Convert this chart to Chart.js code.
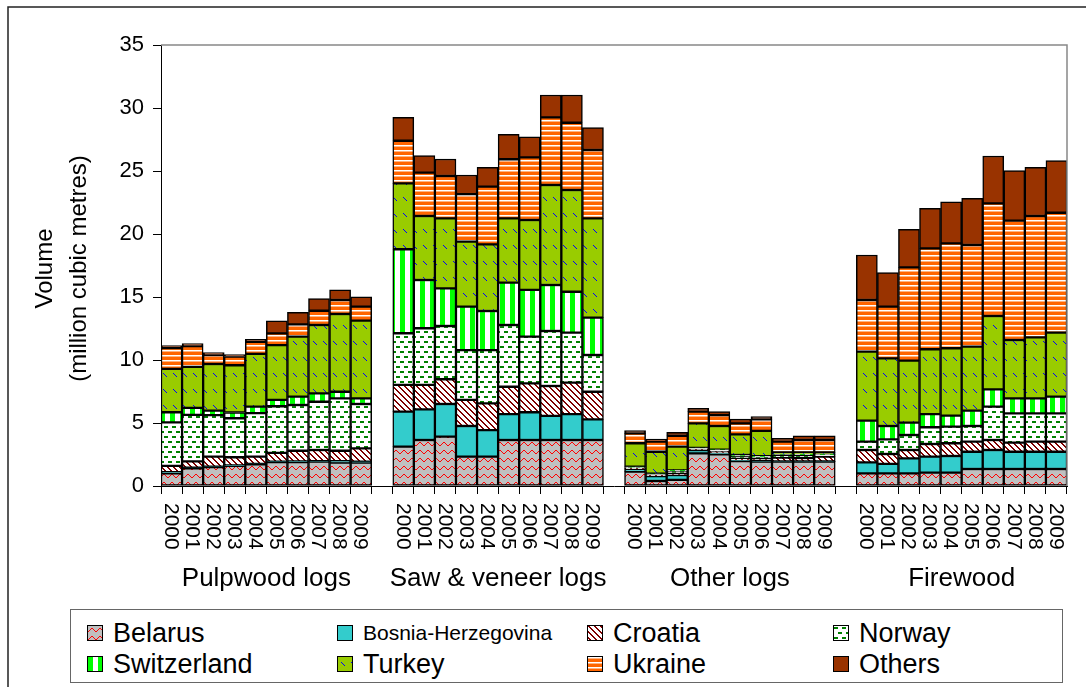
<!DOCTYPE html>
<html>
<head>
<meta charset="utf-8">
<script src="https://cdn.jsdelivr.net/npm/chart.js@4.4.1/dist/chart.umd.min.js"></script>
<style>
  body { margin: 0; background: #fff; }
  #wrap { position: relative; width: 1086px; height: 687px; overflow: hidden; }
  #legend {
    position: absolute; left: 70px; top: 609px; width: 993px; height: 74px;
    border: 1.5px solid #666; box-sizing: border-box; background: #fff;
    font-family: 'Liberation Sans', Arial, sans-serif; color: #000;
  }
  .item { position: absolute; height: 30px; display: flex; align-items: center; white-space: nowrap; }
  .item canvas { border: 1px solid #000; margin-right: 10px; display: block; }
</style>
</head>
<body>
<div id="wrap">
  <canvas id="chart" width="1086" height="687"></canvas>
  <div id="legend"></div>
</div>
<script>
// Categories
const years = ["2000", "2001", "2002", "2003", "2004", "2005", "2006", "2007", "2008", "2009"];
const groups = ["Pulpwood logs", "Saw & veneer logs", "Other logs", "Firewood"];

// Values per country, million m3: Pulpwood 2000-09, Saw & veneer 2000-09, Other 2000-09, Firewood 2000-09
const belarus = [
  1.0, 1.4, 1.5, 1.6, 1.72, 1.9, 1.9, 1.93, 1.85, 1.85,
  3.12, 3.65, 3.92, 2.33, 2.33, 3.65, 3.65, 3.65, 3.65, 3.65,
  1.14, 0.4, 0.48, 2.59, 2.51, 1.98, 1.93, 1.93, 1.93, 1.93,
  1.0, 1.0, 1.0, 1.06, 1.06, 1.35, 1.35, 1.35, 1.35, 1.35
];
const bosnia = [
  0.1, 0.05, 0.03, 0.03, 0.03, 0.03, 0.05, 0.05, 0.13, 0.08,
  2.78, 2.43, 2.59, 2.43, 2.11, 2.06, 2.2, 1.91, 2.06, 1.64,
  0.21, 0.39, 0.39, 0.27, 0.1, 0.05, 0.05, 0.03, 0.03, 0.03,
  0.88, 0.75, 1.19, 1.27, 1.32, 1.37, 1.51, 1.37, 1.37, 1.37
];
const croatia = [
  0.5, 0.5, 0.8, 0.65, 0.58, 0.7, 0.85, 0.88, 0.82, 1.06,
  2.12, 1.94, 1.96, 2.07, 2.12, 2.17, 2.3, 2.38, 2.49, 2.19,
  0.06, 0.07, 0.13, 0.07, 0.15, 0.16, 0.21, 0.29, 0.25, 0.37,
  0.98, 0.79, 0.67, 1.0, 1.01, 0.8, 0.79, 0.72, 0.8, 0.8
];
const norway = [
  3.45, 3.7, 3.3, 3.1, 3.45, 3.7, 3.63, 3.83, 4.16, 3.52,
  4.1, 4.5, 4.23, 3.96, 4.23, 4.9, 3.7, 4.36, 3.97, 2.92,
  0.06, 0.07, 0.19, 0.06, 0.1, 0.14, 0.1, 0.2, 0.25, 0.15,
  0.66, 1.16, 1.19, 1.33, 1.32, 1.24, 2.65, 2.33, 2.25, 2.25
];
const switzerland = [
  0.8, 0.55, 0.35, 0.45, 0.52, 0.5, 0.66, 0.66, 0.52, 0.45,
  6.67, 3.83, 2.99, 3.44, 3.1, 3.36, 3.71, 3.65, 3.25, 2.96,
  0.06, 0.05, 0.05, 0.03, 0.03, 0.13, 0.08, 0.05, 0.05, 0.05,
  1.67, 1.06, 0.98, 1.05, 0.87, 1.22, 1.37, 1.19, 1.19, 1.32
];
const turkey = [
  3.45, 3.25, 3.7, 3.75, 4.18, 4.35, 4.76, 5.43, 6.17, 6.16,
  5.23, 5.08, 5.55, 5.16, 5.29, 5.1, 5.55, 7.94, 8.07, 7.88,
  1.86, 1.74, 1.88, 1.95, 1.87, 1.64, 2.0, 0.17, 0.16, 0.14,
  5.47, 5.37, 4.92, 5.14, 5.35, 5.08, 5.82, 4.63, 4.84, 5.08
];
const ukraine = [
  1.65, 1.65, 0.72, 0.7, 0.97, 0.93, 0.98, 1.13, 1.11, 1.11,
  3.38, 3.44, 3.36, 3.78, 4.58, 4.69, 4.97, 5.37, 5.34, 5.43,
  0.79, 0.8, 0.87, 0.93, 0.87, 0.87, 0.92, 0.85, 0.98, 0.98,
  4.1, 4.1, 7.4, 8.01, 8.33, 8.07, 8.94, 9.47, 9.63, 9.52
];
const others = [
  0.2, 0.2, 0.18, 0.16, 0.19, 1.0, 0.95, 0.96, 0.8, 0.79,
  1.86, 1.35, 1.35, 1.51, 1.53, 1.98, 1.64, 1.77, 2.2, 1.77,
  0.21, 0.21, 0.27, 0.26, 0.27, 0.35, 0.21, 0.26, 0.34, 0.34,
  3.57, 2.7, 3.02, 3.18, 3.3, 3.7, 3.76, 3.97, 3.86, 4.13
];

const yTicks = [0, 5, 10, 15, 20, 25, 30, 35];

const FONT = "'Liberation Sans', Arial, sans-serif";

// labels with one empty slot between groups
const labels = [];
groups.forEach((g, gi) => {
  years.forEach(y => labels.push(y));
  if (gi < groups.length - 1) labels.push("");
});

function spread(values) {
  const out = [];
  groups.forEach((g, gi) => {
    for (let i = 0; i < years.length; i++) out.push(values[gi * years.length + i]);
    if (gi < groups.length - 1) out.push(null);
  });
  return out;
}

// small tiles used as fill patterns
function makeTile(kind) {
  const c = document.createElement("canvas");
  let g;
  if (kind === "zigzag") {
    c.width = 8; c.height = 8; g = c.getContext("2d");
    g.fillStyle = "#C0C0C0"; g.fillRect(0, 0, 8, 8);
    g.fillStyle = "#FF0000";
    [5, 4, 3, 2, 2, 3, 4, 5].forEach((y, x) => g.fillRect(x, y, 1, 1));
  } else if (kind === "hatch") {
    c.width = 6; c.height = 6; g = c.getContext("2d");
    g.fillStyle = "#fff"; g.fillRect(0, 0, 6, 6);
    g.fillStyle = "#800000";
    for (let i = 0; i < 6; i++) {
      g.fillRect(i, i, 1, 1);
      g.fillRect((i + 1) % 6, i, 1, 1);
    }
  } else if (kind === "dashes") {
    c.width = 8; c.height = 10; g = c.getContext("2d");
    g.fillStyle = "#fff"; g.fillRect(0, 0, 8, 10);
    g.fillStyle = "#008000";
    g.fillRect(0, 1, 4, 2);
    g.fillRect(4, 6, 4, 2);
  } else if (kind === "vstripes") {
    c.width = 10; c.height = 2; g = c.getContext("2d");
    g.fillStyle = "#fff"; g.fillRect(0, 0, 10, 2);
    g.fillStyle = "#00FF00"; g.fillRect(0, 0, 5, 2);
  } else if (kind === "dotdiag") {
    c.width = 10; c.height = 16; g = c.getContext("2d");
    g.fillStyle = "#99CC00"; g.fillRect(0, 0, 10, 16);
    g.fillStyle = "#0000FF";
    for (let i = 0; i < 4; i++) g.fillRect(3 + i, 5 + i, 1, 1);
  } else if (kind === "hstripes") {
    c.width = 2; c.height = 5; g = c.getContext("2d");
    g.fillStyle = "#FF6600"; g.fillRect(0, 0, 2, 5);
    g.fillStyle = "#fff"; g.fillRect(0, 0, 2, 1.5);
  }
  return c;
}

function fillFor(ctx, kind) {
  if (kind.startsWith("#")) return kind;
  return ctx.createPattern(makeTile(kind), "repeat");
}

const series = [
  { name: "Belarus", values: belarus, fill: "zigzag" },
  { name: "Bosnia-Herzegovina", values: bosnia, fill: "#33CCCC", small: true },
  { name: "Croatia", values: croatia, fill: "hatch" },
  { name: "Norway", values: norway, fill: "dashes" },
  { name: "Switzerland", values: switzerland, fill: "vstripes" },
  { name: "Turkey", values: turkey, fill: "dotdiag" },
  { name: "Ukraine", values: ukraine, fill: "hstripes" },
  { name: "Others", values: others, fill: "#993300" }
];

const canvas = document.getElementById("chart");
const ctx = canvas.getContext("2d");

// extra drawing: frame, plot border, axis title, year & group labels
const decorations = {
  id: "decorations",
  afterDraw(chart) {
    const c = chart.ctx;
    const area = chart.chartArea;
    const x = chart.scales.x;
    c.save();

    // outer frame
    c.strokeStyle = "#222";
    c.lineWidth = 1.5;
    c.beginPath();
    c.moveTo(8, 687); c.lineTo(8, 7); c.lineTo(1086, 7);
    c.stroke();

    // plot area border (top / right)
    c.strokeStyle = "#888";
    c.lineWidth = 1.5;
    c.beginPath();
    c.moveTo(area.left, area.top); c.lineTo(area.right, area.top); c.lineTo(area.right, area.bottom);
    c.stroke();

    // y axis title
    c.fillStyle = "#000";
    c.font = "24px " + FONT;
    c.textAlign = "center";
    c.textBaseline = "middle";
    const midY = (area.top + area.bottom) / 2 + 3;
    [["Volume", 45], ["(million cubic metres)", 79]].forEach(([t, tx]) => {
      c.save();
      c.translate(tx, midY);
      c.rotate(-Math.PI / 2);
      c.fillText(t, 0, 0);
      c.restore();
    });

    // year labels, rotated clockwise
    c.font = "21px " + FONT;
    c.textAlign = "left";
    c.textBaseline = "middle";
    labels.forEach((lab, i) => {
      if (!lab) return;
      c.save();
      c.translate(x.getPixelForValue(i) - 1, area.bottom + 17);
      c.rotate(Math.PI / 2);
      c.fillText(lab, 0, 0);
      c.restore();
    });

    // group labels
    c.font = "26px " + FONT;
    c.textAlign = "center";
    groups.forEach((g, gi) => {
      const start = gi * (years.length + 1);
      const cx = (x.getPixelForValue(start) + x.getPixelForValue(start + years.length - 1)) / 2;
      c.fillText(g, cx, area.bottom + 93);
    });
    c.restore();
  }
};

const chart = new Chart(ctx, {
  type: "bar",
  data: {
    labels: labels,
    datasets: series.map(s => ({
      label: s.name,
      data: spread(s.values),
      backgroundColor: fillFor(ctx, s.fill),
      borderColor: "#000",
      borderWidth: 1.5,
      borderSkipped: false,
      barPercentage: 1,
      categoryPercentage: 1,
      stack: "all"
    }))
  },
  options: {
    responsive: false,
    devicePixelRatio: 1,
    animation: false,
    events: [],
    layout: { padding: { top: 45, right: 19, left: 0, bottom: 0 } },
    plugins: { legend: { display: false }, title: { display: false }, tooltip: { enabled: false } },
    scales: {
      x: {
        stacked: true,
        offset: true,
        ticks: { display: false },
        grid: { offset: true, drawOnChartArea: false, color: "#000", tickLength: 8, lineWidth: 1 },
        border: { color: "#000", width: 1 },
        afterFit: s => { s.height = 201; }
      },
      y: {
        stacked: true,
        min: yTicks[0],
        max: yTicks[yTicks.length - 1],
        afterBuildTicks: s => { s.ticks = yTicks.map(v => ({ value: v })); },
        ticks: { font: { family: FONT, size: 22 }, color: "#000", padding: 9 },
        grid: { drawOnChartArea: false, color: "#000", tickLength: 8 },
        border: { color: "#000", width: 1 },
        afterFit: s => { s.width = 161; }
      }
    }
  },
  plugins: [decorations]
});

// legend: 4 columns, 2 rows
const legend = document.getElementById("legend");
const colX = [16, 266, 516, 762];
const rowY = [8, 39];
series.forEach((s, i) => {
  const item = document.createElement("div");
  item.className = "item";
  item.style.left = colX[i % 4] + "px";
  item.style.top = rowY[Math.floor(i / 4)] + "px";
  const sw = document.createElement("canvas");
  sw.width = 14; sw.height = 14;
  const sctx = sw.getContext("2d");
  sctx.fillStyle = fillFor(sctx, s.fill);
  sctx.fillRect(0, 0, 14, 14);
  const txt = document.createElement("span");
  txt.textContent = s.name;
  txt.style.fontSize = s.small ? "21px" : "27px";
  item.appendChild(sw);
  item.appendChild(txt);
  legend.appendChild(item);
});
</script>
</body>
</html>
